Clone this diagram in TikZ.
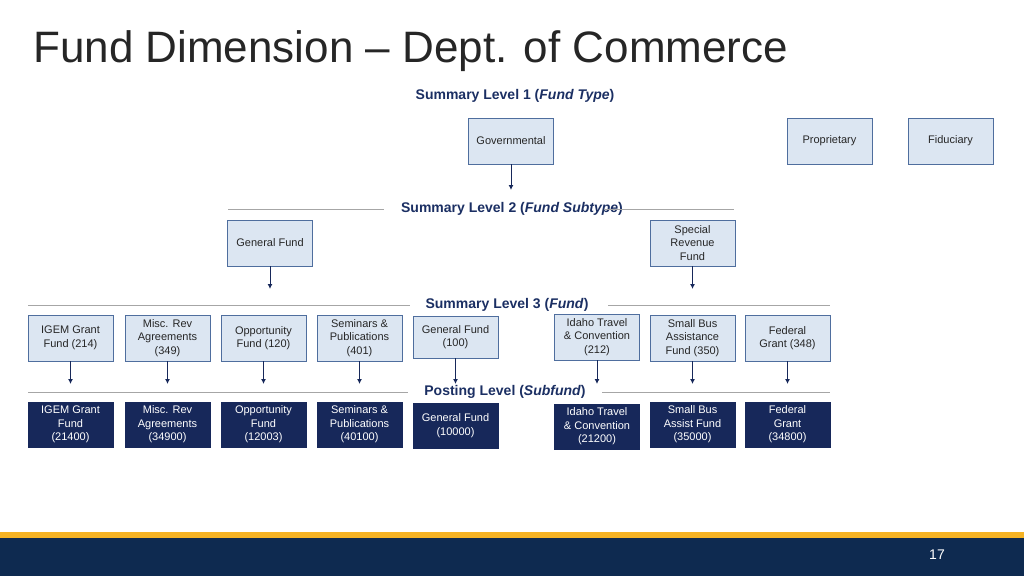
\documentclass[tikz,border=0pt]{standalone}
\usepackage{fontspec}
\setmainfont{Liberation Sans}
\begin{document}
\begin{tikzpicture}[x=1pt,y=-1pt,
  lb/.style={draw=lbb,fill=lbf,line width=0.8pt,minimum width=85pt,minimum height=46pt,inner sep=1pt,align=center,font=\fontsize{11}{13.5}\selectfont,text=black!85},
  db/.style={draw=dbf,fill=dbf,line width=0.8pt,minimum width=85pt,minimum height=45pt,inner sep=1pt,align=center,font=\fontsize{11}{13.5}\selectfont,text=white},
  arr/.style={draw=dbf,line width=1pt,-{Latex[length=5pt,width=5pt]}},
  rule/.style={draw=gray!70,line width=0.6pt},
  lvl/.style={font=\bfseries\fontsize{14}{16}\selectfont,text=lvlc,inner sep=0pt}]
\usetikzlibrary{arrows.meta}
\definecolor{lbf}{HTML}{DCE6F2}
\definecolor{lbb}{HTML}{4F6E9E}
\definecolor{dbf}{HTML}{17285A}
\definecolor{lvlc}{HTML}{1B2F63}
\definecolor{gold}{HTML}{F5B324}
\definecolor{band}{HTML}{0E2A50}
\useasboundingbox (0,0) rectangle (1024,576);
\fill[white] (0,0) rectangle (1024,576);
\fill[gold] (0,532) rectangle (1024,538);
\fill[band] (0,538) rectangle (1024,576);
\node[text=white,font=\fontsize{14}{16}\selectfont] (pg) at (937,555) {17};
\node[anchor=base west,inner sep=0pt,text=black!85,font=\fontsize{44}{50}\selectfont] (title) at (33,62) {Fund Dimension -- Dept. of Commerce};
% level 1
\node[lvl] (l1) at (515,96) {Summary Level 1 (\textit{Fund Type})};
\node[lb] (gov) at (511,141) {Governmental};
\node[lb] (prop) at (829.5,141) {Proprietary};
\node[lb] (fid) at (950.5,141) {Fiduciary};
\coordinate (g1) at (511,190);
\draw[arr] (gov.south) -- (g1);
% level 2
\node[lvl] (l2) at (512,209) {Summary Level 2 (\textit{Fund Subtype})};
\coordinate (r2a) at (228,209); \coordinate (r2b) at (384,209);
\coordinate (r2c) at (604,209); \coordinate (r2d) at (734,209);
\draw[rule] (r2a) -- (r2b); \draw[rule] (r2c) -- (r2d);
\node[lb] (gf) at (270,243) {General Fund};
\node[lb] (sr) at (692.5,243) {Special\\Revenue\\Fund};
\coordinate (gf1) at (270,289); \coordinate (sr1) at (692.5,289);
\draw[arr] (gf.south) -- (gf1);
\draw[arr] (sr.south) -- (sr1);
% level 3
\node[lvl] (l3) at (507,305) {Summary Level 3 (\textit{Fund})};
\coordinate (r3a) at (28,305); \coordinate (r3b) at (410,305);
\coordinate (r3c) at (608,305); \coordinate (r3d) at (830,305);
\draw[rule] (r3a) -- (r3b); \draw[rule] (r3c) -- (r3d);
\node[lb] (a3) at (70.5,338) {IGEM Grant\\Fund (214)};
\node[lb] (b3) at (167.5,338) {Misc. Rev\\Agreements\\(349)};
\node[lb] (c3) at (263.5,338) {Opportunity\\Fund (120)};
\node[lb] (d3) at (359.5,338) {Seminars \&\\Publications\\(401)};
\node[lb,minimum height=42pt] (e3) at (455.5,337) {General Fund\\(100)};
\node[lb] (f3) at (597,337) {Idaho Travel\\\& Convention\\(212)};
\node[lb] (g3) at (692.5,338) {Small Bus\\Assistance\\Fund (350)};
\node[lb] (h3) at (787.5,338) {Federal\\Grant (348)};
\foreach \n/\x in {a3/70.5,b3/167.5,c3/263.5,d3/359.5,e3/455.5,f3/597,g3/692.5,h3/787.5}{
  \coordinate (\n e) at (\x,384);
  \draw[arr] (\n.south) -- (\n e);}
% posting
\node[lvl] (l4) at (505,392) {Posting Level (\textit{Subfund})};
\coordinate (r4a) at (28,392); \coordinate (r4b) at (408,392);
\coordinate (r4c) at (602,392); \coordinate (r4d) at (830,392);
\draw[rule] (r4a) -- (r4b); \draw[rule] (r4c) -- (r4d);
\node[db] (a4) at (70.5,424.5) {IGEM Grant\\Fund\\(21400)};
\node[db] (b4) at (167.5,424.5) {Misc. Rev\\Agreements\\(34900)};
\node[db] (c4) at (263.5,424.5) {Opportunity\\Fund\\(12003)};
\node[db] (d4) at (359.5,424.5) {Seminars \&\\Publications\\(40100)};
\node[db] (e4) at (455.5,425.5) {General Fund\\(10000)};
\node[db] (f4) at (597,426.5) {Idaho Travel\\\& Convention\\(21200)};
\node[db] (g4) at (692.5,424.5) {Small Bus\\Assist Fund\\(35000)};
\node[db] (h4) at (787.5,424.5) {Federal\\Grant\\(34800)};
\end{tikzpicture}
\end{document}
